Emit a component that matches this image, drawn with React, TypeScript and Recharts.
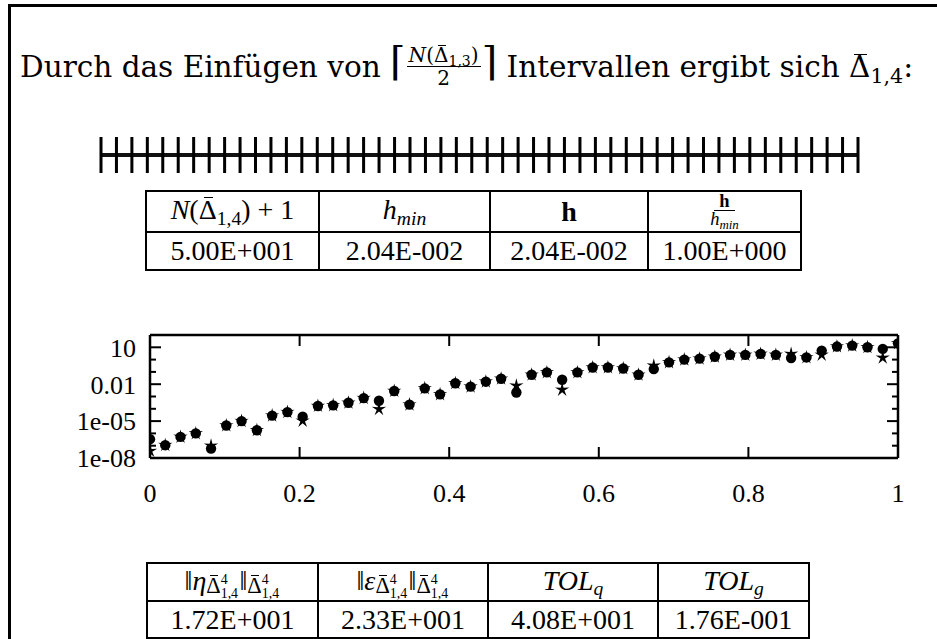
import React from 'react'
import { ScatterChart, Scatter, XAxis, YAxis } from 'recharts'

// mesh nodes of the 49 intervals (h = 2.04E-002)
const nodes = [
  0, 0.0204, 0.0408, 0.0612, 0.0816, 0.102, 0.1224, 0.1429, 0.1633, 0.1837,
  0.2041, 0.2245, 0.2449, 0.2653, 0.2857, 0.3061, 0.3265, 0.3469, 0.3673, 0.3878,
  0.4082, 0.4286, 0.449, 0.4694, 0.4898, 0.5102, 0.5306, 0.551, 0.5714, 0.5918,
  0.6122, 0.6327, 0.6531, 0.6735, 0.6939, 0.7143, 0.7347, 0.7551, 0.7755, 0.7959,
  0.8163, 0.8367, 0.8571, 0.8776, 0.898, 0.9184, 0.9388, 0.9592, 0.9796, 1,
]

// filled circles
const circleVals = [
  3.4e-7, 1.1e-7, 5.2e-7, 1.0e-6, 5.8e-8, 4.4e-6, 1.0e-5, 1.8e-6, 2.8e-5, 5.4e-5,
  2.3e-5, 1.7e-4, 1.9e-4, 3.1e-4, 7.4e-4, 4.5e-4, 2.8e-3, 2.2e-4, 4.6e-3, 1.5e-3,
  1.2e-2, 6.3e-3, 1.6e-2, 2.8e-2, 2.1e-3, 5.9e-2, 9.1e-2, 2.3e-2, 9.1e-2, 0.23,
  0.23, 0.19, 5.9e-2, 0.17, 0.6, 1.0, 1.2, 1.7, 2.4, 2.4,
  2.9, 2.4, 1.35, 1.5, 5.4, 11.5, 13.8, 10, 7.4, 21,
]

// stars
const starVals = [
  3.7e-8, 1.1e-7, 5.2e-7, 1.0e-6, 1.0e-7, 4.4e-6, 1.0e-5, 1.8e-6, 2.8e-5, 5.4e-5,
  1.05e-5, 1.7e-4, 1.9e-4, 3.1e-4, 7.4e-4, 9.3e-5, 2.8e-3, 2.2e-4, 4.6e-3, 1.5e-3,
  1.2e-2, 6.3e-3, 1.6e-2, 2.8e-2, 7.6e-3, 5.9e-2, 9.1e-2, 3.5e-3, 9.1e-2, 0.23,
  0.23, 0.19, 5.9e-2, 0.32, 0.6, 1.0, 1.2, 1.7, 2.4, 2.4,
  2.9, 2.4, 2.9, 1.5, 2.4, 11.5, 13.8, 10, 1.4, 21,
]

const xTicks = [0, 0.2, 0.4, 0.6, 0.8, 1]
const yTicks = [1e-8, 1e-7, 1e-6, 1e-5, 1e-4, 1e-3, 1e-2, 1e-1, 1, 10, 100]
const yMajor = [1e-8, 1e-5, 1e-2, 10]
const yLabels = ['1e-08', '1e-05', '0.01', '10']

const meshStats = ['5.00E+001', '2.04E-002', '2.04E-002', '1.00E+000']
const errStats = ['1.72E+001', '2.33E+001', '4.08E+001', '1.76E-001']

const FONT = "'Liberation Serif', serif"
const WIDE = "'DejaVu Serif', serif"

const circlePts = nodes.map((x, i) => ({ x, y: circleVals[i] }))
const starPts = nodes.map((x, i) => ({ x, y: starVals[i] }))
const rulerPts = nodes.map((x) => ({ x, y: 0 }))

const Dot = (p: any) => <circle cx={p.cx} cy={p.cy} r={5.2} fill="#000" />

const Star = (p: any) => {
  const pts: string[] = []
  for (let k = 0; k < 10; k++) {
    const a = -Math.PI / 2 + (k * Math.PI) / 5
    const rad = k % 2 ? 2.4 : 7.5
    pts.push(`${p.cx + rad * Math.cos(a)},${p.cy + rad * Math.sin(a)}`)
  }
  return <polygon points={pts.join(' ')} fill="#000" />
}

const Nothing = () => <g />

const NodeTick = (p: any) => (
  <rect x={p.cx - 1.5} y={p.cy - 18} width={3} height={36} fill="#000" />
)

const LeftTick = (p: any) => {
  const i = yMajor.indexOf(p.payload.value)
  return (
    <g>
      <line x1={p.x} x2={p.x + (i >= 0 ? 11 : 6)} y1={p.y} y2={p.y} stroke="#000" strokeWidth={2} />
      {i >= 0 && (
        <text x={p.x - 14} y={p.y} dy="0.36em" textAnchor="end" fontSize={26} fontFamily={FONT} fill="#000">
          {yLabels[i]}
        </text>
      )}
    </g>
  )
}

const RightTick = (p: any) => {
  const major = yMajor.indexOf(p.payload.value) >= 0
  return <line x1={p.x} x2={p.x - (major ? 11 : 6)} y1={p.y} y2={p.y} stroke="#000" strokeWidth={2} />
}

const BottomTick = (p: any) => (
  <g>
    <line x1={p.x} x2={p.x} y1={p.y} y2={p.y - 11} stroke="#000" strokeWidth={2} />
    <text x={p.x} y={p.y + 35} dy="0.36em" textAnchor="middle" fontSize={26} fontFamily={FONT} fill="#000">
      {p.payload.value}
    </text>
  </g>
)

const TopTick = (p: any) => (
  <line x1={p.x} x2={p.x} y1={p.y} y2={p.y + 11} stroke="#000" strokeWidth={2} />
)

// a bar over a glyph
const Bar = ({ children }: any) => (
  <span style={{ position: 'relative', display: 'inline-block', lineHeight: 1 }}>
    {children}
    <span style={{ position: 'absolute', left: '0.18em', right: '0.12em', top: '0.02em', borderTop: '0.06em solid #000' }} />
  </span>
)

// subscript that does not grow the line box
const Sub = ({ children }: any) => (
  <span style={{ fontSize: '0.7em', position: 'relative', top: '0.3em' }}>{children}</span>
)

const SupSub = ({ sup, sub }: any) => (
  <span style={{ position: 'relative', display: 'inline-block', width: '1.35em', height: '0.8em', fontSize: '0.62em' }}>
    <span style={{ position: 'absolute', left: 0, top: '-0.62em', lineHeight: 1 }}>{sup}</span>
    <span style={{ position: 'absolute', left: 0, top: '0.42em', lineHeight: 1 }}>{sub}</span>
  </span>
)

const DeltaBar = ({ sub }: any) => (
  <span>
    <Bar>Δ</Bar>
    <Sub>{sub}</Sub>
  </span>
)

const DeltaMesh = () => (
  <span style={{ fontSize: '0.8em', position: 'relative', top: '0.12em' }}>
    <Bar>Δ</Bar>
    <SupSub sup="4" sub="1,4" />
  </span>
)

const cell: React.CSSProperties = {
  border: '2px solid #000',
  padding: 0,
  textAlign: 'center',
  whiteSpace: 'nowrap',
  lineHeight: '28px',
  verticalAlign: 'middle',
}

export default function App() {
  return (
    <div style={{ position: 'fixed', left: 0, top: 0, width: 937, height: 639, overflow: 'hidden', background: '#fff', fontFamily: FONT, color: '#000' }}>
      <div style={{ position: 'absolute', left: 8, top: 4, width: 1000, height: 800, border: '3px solid #000' }} />

      <div style={{ position: 'absolute', left: 20, top: 44, fontSize: 29.5, fontFamily: WIDE, whiteSpace: 'nowrap', lineHeight: '40px' }}>
        Durch das Einfügen von{' '}
        <span style={{ fontSize: '1.35em', position: 'relative', top: '-0.05em', lineHeight: 0 }}>⌈</span>
        <span style={{ display: 'inline-flex', flexDirection: 'column', alignItems: 'center', verticalAlign: '15px', fontSize: '0.68em', lineHeight: 1.1, margin: '0 0.05em' }}>
          <span style={{ borderBottom: '1.5px solid #000', padding: '0 0.1em' }}>
            <i>N</i>(<DeltaBar sub="1,3" />)
          </span>
          <span>2</span>
        </span>
        <span style={{ fontSize: '1.35em', position: 'relative', top: '-0.05em', lineHeight: 0 }}>⌉</span>{' '}
        Intervallen ergibt sich <DeltaBar sub="1,4" />:
      </div>

      <div style={{ position: 'absolute', left: 0, top: 130 }}>
        <ScatterChart width={937} height={50} margin={{ top: 0, right: 79, bottom: 0, left: 101 }}>
          <XAxis type="number" dataKey="x" domain={[0, 1]} hide />
          <YAxis type="number" dataKey="y" domain={[-1, 1]} hide />
          <Scatter data={rulerPts} shape={NodeTick} line={{ stroke: '#111', strokeWidth: 4 }} isAnimationActive={false} />
        </ScatterChart>
      </div>

      <table style={{ position: 'absolute', left: 145, top: 190, borderCollapse: 'collapse', tableLayout: 'fixed', fontSize: 28 }}>
        <colgroup>
          <col style={{ width: 173 }} />
          <col style={{ width: 171 }} />
          <col style={{ width: 158 }} />
          <col style={{ width: 153 }} />
        </colgroup>
        <tbody>
          <tr style={{ height: 41 }}>
            <td style={cell}><i>N</i>(<DeltaBar sub="1,4" />) + 1</td>
            <td style={cell}><i>h</i><Sub><i>min</i></Sub></td>
            <td style={cell}><b>h</b></td>
            <td style={{ ...cell, lineHeight: '18px' }}>
              <span style={{ display: 'inline-flex', flexDirection: 'column', alignItems: 'center', verticalAlign: '5px', fontSize: '0.66em', lineHeight: 0.92 }}>
                <span style={{ borderBottom: '1.5px solid #000', padding: '0 0.3em' }}><b>h</b></span>
                <span style={{ paddingBottom: 2 }}><i>h<Sub>min</Sub></i></span>
              </span>
            </td>
          </tr>
          <tr style={{ height: 38 }}>
            {meshStats.map((s, i) => (
              <td key={i} style={cell}>{s}</td>
            ))}
          </tr>
        </tbody>
      </table>

      <div style={{ position: 'absolute', left: 0, top: 300 }}>
        <ScatterChart width={937} height={218} margin={{ top: 34, right: 38, bottom: 0, left: 0 }}>
          <XAxis xAxisId="b" type="number" dataKey="x" domain={[0, 1]} ticks={xTicks} interval={0} allowDataOverflow
            orientation="bottom" height={60} tickSize={0} tickMargin={0} tickLine={false}
            axisLine={{ stroke: '#000', strokeWidth: 2.5 }} tick={BottomTick} />
          <XAxis xAxisId="t" type="number" dataKey="x" domain={[0, 1]} ticks={xTicks} interval={0} allowDataOverflow
            orientation="top" height={1} tickSize={0} tickMargin={0} tickLine={false}
            axisLine={{ stroke: '#000', strokeWidth: 2.5 }} tick={TopTick} />
          <YAxis yAxisId="l" type="number" dataKey="y" scale="log" domain={[1e-8, 100]} ticks={yTicks} interval={0} allowDataOverflow
            orientation="left" width={150} tickSize={0} tickMargin={0} tickLine={false}
            axisLine={{ stroke: '#000', strokeWidth: 2.5 }} tick={LeftTick} />
          <YAxis yAxisId="r" type="number" dataKey="y" scale="log" domain={[1e-8, 100]} ticks={yTicks} interval={0} allowDataOverflow
            orientation="right" width={1} tickSize={0} tickMargin={0} tickLine={false}
            axisLine={{ stroke: '#000', strokeWidth: 2.5 }} tick={RightTick} />
          <Scatter xAxisId="t" yAxisId="r" data={circlePts} shape={Nothing} isAnimationActive={false} />
          <Scatter xAxisId="b" yAxisId="l" data={circlePts} shape={Dot} isAnimationActive={false} />
          <Scatter xAxisId="b" yAxisId="l" data={starPts} shape={Star} isAnimationActive={false} />
        </ScatterChart>
      </div>

      <table style={{ position: 'absolute', left: 146, top: 562, borderCollapse: 'collapse', tableLayout: 'fixed', fontSize: 28 }}>
        <colgroup>
          <col style={{ width: 171 }} />
          <col style={{ width: 170 }} />
          <col style={{ width: 170 }} />
          <col style={{ width: 151 }} />
        </colgroup>
        <tbody>
          <tr style={{ height: 38 }}>
            <td style={cell}>‖<i>η</i><DeltaMesh />‖<DeltaMesh /></td>
            <td style={cell}>‖<i>ε</i><DeltaMesh />‖<DeltaMesh /></td>
            <td style={cell}><i>TOL</i><Sub><i>q</i></Sub></td>
            <td style={cell}><i>TOL</i><Sub><i>g</i></Sub></td>
          </tr>
          <tr style={{ height: 37 }}>
            {errStats.map((s, i) => (
              <td key={i} style={cell}>{s}</td>
            ))}
          </tr>
        </tbody>
      </table>
    </div>
  )
}
